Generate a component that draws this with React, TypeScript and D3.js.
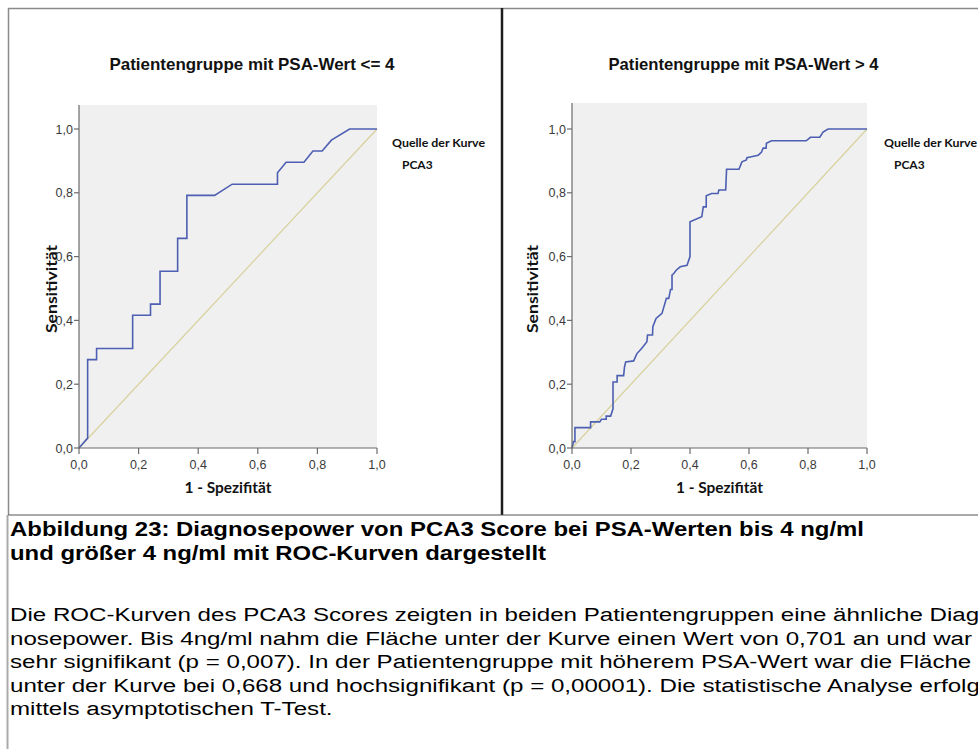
import React from "react";
import * as d3 from "d3";

// ROC curve of the PCA3 score, PSA <= 4 ng/ml (1 - specificity, sensitivity)
const fprLow = [0, 0.029, 0.029, 0.059, 0.059, 0.18, 0.18, 0.24, 0.24, 0.272, 0.272, 0.331, 0.331, 0.362, 0.362, 0.455, 0.514, 0.666, 0.666, 0.695, 0.755, 0.785, 0.816, 0.847, 0.908, 1.0];
const tprLow = [0, 0.031, 0.277, 0.277, 0.312, 0.312, 0.416, 0.416, 0.451, 0.451, 0.554, 0.554, 0.657, 0.657, 0.792, 0.792, 0.827, 0.827, 0.863, 0.896, 0.896, 0.931, 0.931, 0.965, 1.0, 1.0];

// ROC curve of the PCA3 score, PSA > 4 ng/ml
const fprHigh = [0, 0.005, 0.01, 0.01, 0.063, 0.063, 0.094, 0.1, 0.116, 0.116, 0.131, 0.139, 0.139, 0.153, 0.153, 0.175, 0.178, 0.182, 0.209, 0.22, 0.236, 0.254, 0.256, 0.273, 0.274, 0.285, 0.305, 0.32, 0.328, 0.334, 0.339, 0.339, 0.345, 0.354, 0.367, 0.39, 0.4, 0.4, 0.44, 0.445, 0.455, 0.455, 0.473, 0.495, 0.498, 0.521, 0.524, 0.566, 0.576, 0.591, 0.593, 0.608, 0.631, 0.642, 0.648, 0.658, 0.659, 0.676, 0.794, 0.808, 0.84, 0.851, 0.868, 1.0];
const tprHigh = [0, 0.02, 0.02, 0.064, 0.064, 0.082, 0.082, 0.09, 0.09, 0.1, 0.1, 0.123, 0.207, 0.207, 0.227, 0.227, 0.254, 0.27, 0.273, 0.296, 0.312, 0.333, 0.354, 0.354, 0.38, 0.406, 0.422, 0.469, 0.469, 0.497, 0.497, 0.542, 0.547, 0.558, 0.568, 0.573, 0.6, 0.709, 0.725, 0.756, 0.756, 0.791, 0.798, 0.798, 0.809, 0.809, 0.874, 0.874, 0.897, 0.903, 0.91, 0.913, 0.918, 0.927, 0.94, 0.94, 0.955, 0.963, 0.963, 0.974, 0.974, 0.99, 1.0, 1.0];

// Reference diagonal (chance line)
const diagonal = [0, 1];

const axisTicks = [0, 0.2, 0.4, 0.6, 0.8, 1.0];
const panelTitles = ["Patientengruppe mit PSA-Wert <= 4", "Patientengruppe mit PSA-Wert > 4"];
const xAxisTitle = "1 - Spezifität";
const yAxisTitle = "Sensitivität";
const legendTitle = "Quelle der Kurve";
const legendItem = "PCA3";

const captionLines = [
  "Abbildung 23: Diagnosepower von PCA3 Score bei PSA-Werten bis 4 ng/ml",
  "und größer 4 ng/ml mit ROC-Kurven dargestellt",
];
const paragraphLines = [
  "Die ROC-Kurven des PCA3 Scores zeigten in beiden Patientengruppen eine ähnliche Diag-",
  "nosepower. Bis 4ng/ml nahm die Fläche unter der Kurve einen Wert von 0,701 an und war",
  "sehr signifikant (p = 0,007). In der Patientengruppe mit höherem PSA-Wert war die Fläche",
  "unter der Kurve bei 0,668 und hochsignifikant (p = 0,00001). Die statistische Analyse erfolgte",
  "mittels asymptotischen T-Test.",
];

const fmt = (v: number) => v.toFixed(1).replace(".", ",");

const CURVE = "#4d5fb2";
const DIAG = "#d7d19c";
const PLOT_BG = "#f0f0f0";
const AXIS = "#6b6b6b";
const TICK_TEXT = "#3a3a3a";
const SANS = "'Liberation Sans', Arial, sans-serif";
const CAL = "Lato, 'Open Sans', sans-serif";

type PanelProps = {
  left: number;
  right: number;
  top: number;
  title: string;
  titleWidth: number;
  fpr: number[];
  tpr: number[];
  yLabelX: number;
  legendX: number;
};

function RocPanel({ left, right, top, title, titleWidth, fpr, tpr, yLabelX, legendX }: PanelProps) {
  const x = d3.scaleLinear().domain([0, 1]).range([left, right]);
  const y = d3.scaleLinear().domain([0, 1]).range([448, 129]);
  const bottom = y(0);
  const pts: [number, number][] = fpr.map((f, i) => [f, tpr[i]]);
  const line = d3
    .line<[number, number]>()
    .x((d) => x(d[0]))
    .y((d) => y(d[1]));
  const diag: [number, number][] = diagonal.map((v) => [v, v]);
  const cx = (left + right) / 2;
  return (
    <g>
      <text
        x={cx + 24}
        y={70}
        textAnchor="middle"
        fontFamily={SANS}
        fontWeight="bold"
        fontSize={16.5}
        textLength={titleWidth}
        lengthAdjust="spacingAndGlyphs"
        fill="#111"
      >
        {title}
      </text>
      <rect x={left} y={top} width={right - left} height={bottom - top} fill={PLOT_BG} />
      <path d={line(diag) || ""} fill="none" stroke={DIAG} strokeWidth={1.2} />
      <path d={line(pts) || ""} fill="none" stroke={CURVE} strokeWidth={1.6} strokeLinejoin="miter" />
      {/* axes */}
      <line x1={left} x2={left} y1={top} y2={bottom + 0.5} stroke={AXIS} strokeWidth={1.2} />
      <line x1={left} x2={right} y1={bottom} y2={bottom} stroke={AXIS} strokeWidth={1.2} />
      {axisTicks.map((t) => (
        <g key={"y" + t}>
          <line x1={left - 5} x2={left} y1={y(t)} y2={y(t)} stroke={AXIS} strokeWidth={1.2} />
          <text
            x={left - 6}
            y={y(t) + 4.5}
            textAnchor="end"
            fontFamily={SANS}
            fontSize={12.5}
            fill={TICK_TEXT}
          >
            {fmt(t)}
          </text>
        </g>
      ))}
      {axisTicks.map((t) => (
        <g key={"x" + t}>
          <line x1={x(t)} x2={x(t)} y1={bottom} y2={bottom + 6} stroke={AXIS} strokeWidth={1.2} />
          <text x={x(t)} y={469} textAnchor="middle" fontFamily={SANS} fontSize={12.5} fill={TICK_TEXT}>
            {fmt(t)}
          </text>
        </g>
      ))}
      <text
        x={cx}
        y={493}
        textAnchor="middle"
        fontFamily={CAL}
        fontWeight="bold"
        fontSize={14.5}
        textLength={87}
        lengthAdjust="spacingAndGlyphs"
        fill="#111"
      >
        {xAxisTitle}
      </text>
      <text
        transform={`translate(${yLabelX},${289}) rotate(-90)`}
        textAnchor="middle"
        fontFamily={CAL}
        fontWeight="bold"
        fontSize={14.5}
        textLength={88}
        lengthAdjust="spacingAndGlyphs"
        fill="#111"
      >
        {yAxisTitle}
      </text>
      <text
        x={legendX}
        y={147}
        fontFamily={CAL}
        fontWeight="bold"
        fontSize={12}
        textLength={93}
        lengthAdjust="spacingAndGlyphs"
        fill="#111"
      >
        {legendTitle}
      </text>
      <text x={legendX + 10} y={169} fontFamily={CAL} fontWeight="bold" fontSize={12} fill="#111">
        {legendItem}
      </text>
    </g>
  );
}

export default function App() {
  const W = 978;
  const H = 749;
  const capX = 10;
  const sx = 1.27;
  return (
    <svg
      width={W}
      height={H}
      viewBox={`0 0 ${W} ${H}`}
      style={{ position: "absolute", left: 0, top: 0, display: "block", background: "#fff" }}
    >
      <rect x={0} y={0} width={W} height={H} fill="#fff" />
      <RocPanel
        left={79}
        right={377}
        top={105}
        title={panelTitles[0]}
        titleWidth={285}
        fpr={fprLow}
        tpr={tprLow}
        yLabelX={57}
        legendX={392}
      />
      <RocPanel
        left={572}
        right={867}
        top={103}
        title={panelTitles[1]}
        titleWidth={270}
        fpr={fprHigh}
        tpr={tprHigh}
        yLabelX={538}
        legendX={884}
      />
      {/* frames */}
      <line x1={8} x2={W} y1={8.5} y2={8.5} stroke="#8a8a8a" strokeWidth={1.5} />
      <line x1={8.5} x2={8.5} y1={8} y2={515} stroke="#8a8a8a" strokeWidth={1.5} />
      <line x1={502} x2={502} y1={8} y2={515} stroke="#1e1e1e" strokeWidth={2.5} />
      <line x1={8} x2={W} y1={515} y2={515} stroke="#555" strokeWidth={1.2} />
      <line x1={7.5} x2={7.5} y1={515} y2={H} stroke="#aaa" strokeWidth={2} />
      {/* caption */}
      {captionLines.map((t, i) => (
        <text
          key={"c" + i}
          x={capX}
          y={536 + i * 24}
          fontFamily={SANS}
          fontWeight="bold"
          fontSize={19.5}
          textLength={i === 0 ? 854 : 536}
          lengthAdjust="spacingAndGlyphs"
          fill="#000"
        >
          {t}
        </text>
      ))}
      <g transform={`translate(${capX},0) scale(${sx},1)`}>
        {paragraphLines.map((t, i) => (
          <text key={"p" + i} x={0} y={621 + i * 23.6} fontFamily={SANS} fontSize={19} fill="#000">
            {t}
          </text>
        ))}
      </g>
    </svg>
  );
}
